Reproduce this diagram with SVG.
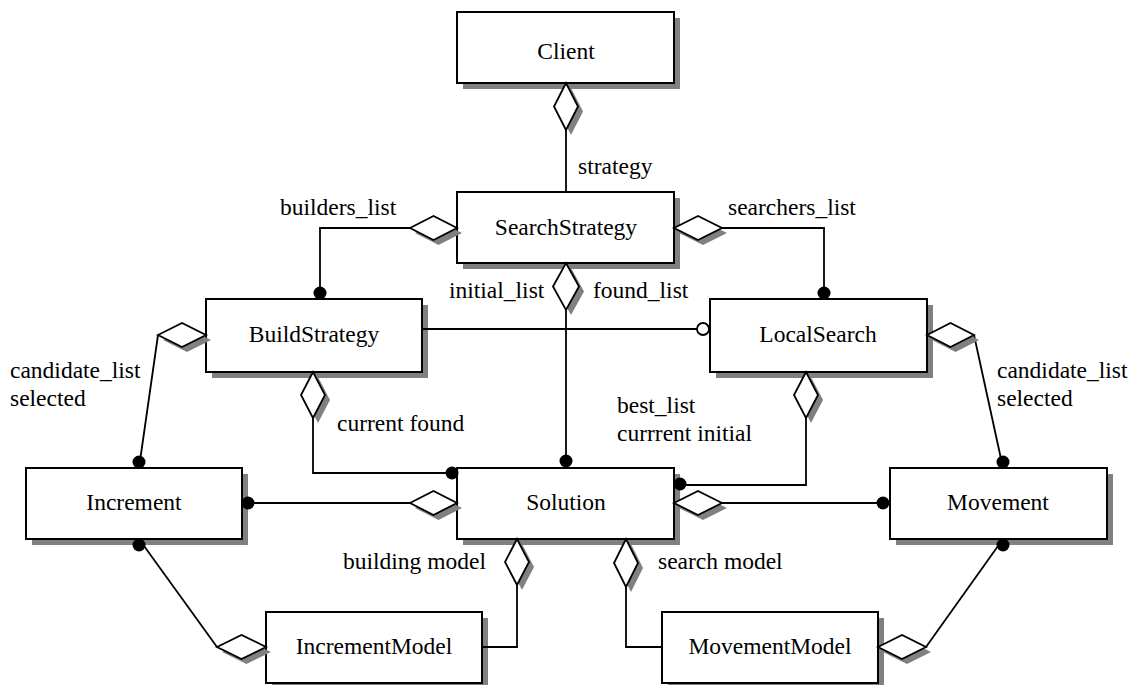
<svg xmlns="http://www.w3.org/2000/svg" width="1134" height="685" viewBox="0 0 1134 685">
<style>
.sh{fill:#808080;stroke:none}
.box{fill:#fff;stroke:#000;stroke-width:2}
.t{font-family:"Liberation Serif","Times New Roman",serif;font-size:23.5px;fill:#000}
.c{text-anchor:middle}
.ln{fill:none;stroke:#000;stroke-width:1.8}
.dm{fill:#fff;stroke:#000;stroke-width:1.8}
.dot{fill:#000}
.oc{fill:#fff;stroke:#000;stroke-width:1.8}
</style>
<rect width="1134" height="685" fill="#fff"/>

<g id="shadows">
<rect class="sh" x="463" y="18" width="217" height="71"/>
<rect class="sh" x="463" y="198" width="217" height="71"/>
<rect class="sh" x="212" y="305" width="216" height="73"/>
<rect class="sh" x="716" y="305" width="217" height="73"/>
<rect class="sh" x="32" y="474" width="216" height="71"/>
<rect class="sh" x="463" y="474" width="217" height="71"/>
<rect class="sh" x="896" y="474" width="217" height="71"/>
<rect class="sh" x="272" y="618" width="216" height="71"/>
<rect class="sh" x="668" y="618" width="216" height="71"/>
</g>

<g id="connectors">
<polyline class="ln" points="566,130 566,192"/>
<polyline class="ln" points="410,228 320,228 320,299"/>
<polyline class="ln" points="722,228 824,228 824,299"/>
<polyline class="ln" points="566,310 566,468"/>
<polyline class="ln" points="422,329 697,329"/>
<polyline class="ln" points="158,335 139,468"/>
<polyline class="ln" points="974,335 1003,468"/>
<polyline class="ln" points="313,418 313,473 457,473"/>
<polyline class="ln" points="806,418 806,485 674,485"/>
<polyline class="ln" points="242,503 410,503"/>
<polyline class="ln" points="722,503 890,503"/>
<polyline class="ln" points="139,539 217,647"/>
<polyline class="ln" points="517,585 517,647 482,647"/>
<polyline class="ln" points="626,587 626,647 662,647"/>
<polyline class="ln" points="926,647 1003,539"/>
</g>

<g id="node-client">
<rect class="box" x="457" y="12" width="217" height="71"/>
<text class="t c" x="566" y="59">Client</text>
</g>
<g id="node-searchstrategy">
<rect class="box" x="457" y="192" width="217" height="71"/>
<text class="t c" x="566" y="235">SearchStrategy</text>
</g>
<g id="node-buildstrategy">
<rect class="box" x="206" y="299" width="216" height="73"/>
<text class="t c" x="314" y="342">BuildStrategy</text>
</g>
<g id="node-localsearch">
<rect class="box" x="710" y="299" width="217" height="73"/>
<text class="t c" x="818" y="342">LocalSearch</text>
</g>
<g id="node-increment">
<rect class="box" x="26" y="468" width="216" height="71"/>
<text class="t c" x="134" y="510">Increment</text>
</g>
<g id="node-solution">
<rect class="box" x="457" y="468" width="217" height="71"/>
<text class="t c" x="566" y="510">Solution</text>
</g>
<g id="node-movement">
<rect class="box" x="890" y="468" width="217" height="71"/>
<text class="t c" x="998" y="510">Movement</text>
</g>
<g id="node-incrementmodel">
<rect class="box" x="266" y="612" width="216" height="71"/>
<text class="t c" x="374" y="654">IncrementModel</text>
</g>
<g id="node-movementmodel">
<rect class="box" x="662" y="612" width="216" height="71"/>
<text class="t c" x="770" y="654">MovementModel</text>
</g>

<g id="connector-ends">
<g transform="translate(5,5)" class="sh">
<polygon points="566,83 578,106.5 566,130 554,106.5"/>
<polygon points="410,228 433.5,216 457,228 433.5,240"/>
<polygon points="674,228 698,216 722,228 698,240"/>
<polygon points="566,263 579,286.5 566,310 553,286.5"/>
<polygon points="158,335 182,323 206,335 182,347"/>
<polygon points="313,372 325,395 313,418 301,395"/>
<polygon points="806,372 818,395 806,418 794,395"/>
<polygon points="927,335 950.5,323 974,335 950.5,347"/>
<polygon points="410,503 433.5,491 457,503 433.5,515"/>
<polygon points="674,503 698,491 722,503 698,515"/>
<polygon points="517,539 529,562 517,585 505,562"/>
<polygon points="626,539 638,563 626,587 614,563"/>
<polygon points="217,647 241.5,635 266,647 241.5,659"/>
<polygon points="878,647 902,635 926,647 902,659"/>
</g>
<polygon class="dm" points="566,83 578,106.5 566,130 554,106.5"/>
<polygon class="dm" points="410,228 433.5,216 457,228 433.5,240"/>
<polygon class="dm" points="674,228 698,216 722,228 698,240"/>
<polygon class="dm" points="566,263 579,286.5 566,310 553,286.5"/>
<polygon class="dm" points="158,335 182,323 206,335 182,347"/>
<polygon class="dm" points="313,372 325,395 313,418 301,395"/>
<polygon class="dm" points="806,372 818,395 806,418 794,395"/>
<polygon class="dm" points="927,335 950.5,323 974,335 950.5,347"/>
<polygon class="dm" points="410,503 433.5,491 457,503 433.5,515"/>
<polygon class="dm" points="674,503 698,491 722,503 698,515"/>
<polygon class="dm" points="517,539 529,562 517,585 505,562"/>
<polygon class="dm" points="626,539 638,563 626,587 614,563"/>
<polygon class="dm" points="217,647 241.5,635 266,647 241.5,659"/>
<polygon class="dm" points="878,647 902,635 926,647 902,659"/>

<circle class="dot" cx="320" cy="293" r="6.5"/>
<circle class="dot" cx="824" cy="293" r="6.5"/>
<circle class="dot" cx="566" cy="461" r="6.5"/>
<circle class="dot" cx="139" cy="462" r="6.5"/>
<circle class="dot" cx="1003" cy="462" r="6.5"/>
<circle class="dot" cx="452" cy="473" r="6.5"/>
<circle class="dot" cx="680" cy="484" r="6.5"/>
<circle class="dot" cx="248" cy="503" r="6.5"/>
<circle class="dot" cx="883" cy="503" r="6.5"/>
<circle class="dot" cx="139" cy="545" r="6.5"/>
<circle class="dot" cx="1003" cy="545" r="6.5"/>
<circle class="oc" cx="703" cy="329" r="6"/>
</g>

<g id="labels">
<text class="t" x="578" y="174">strategy</text>
<text class="t" x="280" y="215">builders_list</text>
<text class="t" x="728" y="215">searchers_list</text>
<text class="t" x="449" y="298">initial_list</text>
<text class="t" x="593" y="298">found_list</text>
<text class="t" x="10" y="378">candidate_list</text>
<text class="t" x="10" y="406">selected</text>
<text class="t" x="997" y="378">candidate_list</text>
<text class="t" x="997" y="406">selected</text>
<text class="t" x="337" y="431">current found</text>
<text class="t" x="617" y="413">best_list</text>
<text class="t" x="617" y="441">currrent initial</text>
<text class="t" x="343" y="569">building model</text>
<text class="t" x="658" y="569">search model</text>
</g>
</svg>
